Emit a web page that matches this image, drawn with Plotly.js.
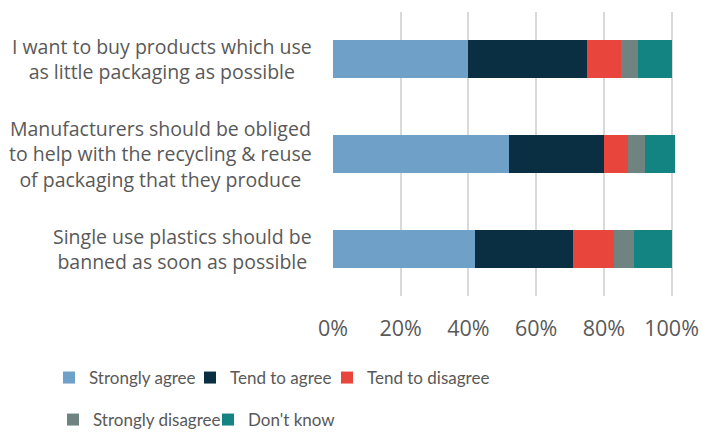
<!DOCTYPE html>
<html>
<head>
<meta charset="utf-8">
<script src="https://cdn.plot.ly/plotly-3.0.1.min.js"></script>
<style>html,body{margin:0;padding:0;background:#fff}#chart{width:702px;height:433px}</style>
</head>
<body>
<div id="chart"></div>
<script>
// Data
const categories = [
  "I want to buy products which use<br>as little packaging as possible",
  "Manufacturers should be obliged<br>to help with the recycling & reuse<br>of packaging that they produce",
  "Single use plastics should be<br>banned as soon as possible"
];
const seriesNames = ["Strongly agree", "Tend to agree", "Tend to disagree", "Strongly disagree", "Don't know"];
const stronglyAgree    = [40, 52, 42];
const tendToAgree      = [35, 28, 29];
const tendToDisagree   = [10, 7, 12];
const stronglyDisagree = [5, 5, 6];
const dontKnow         = [10, 9, 11];
const tickValues = [0, 20, 40, 60, 80, 100];
const tickLabels = ["0%", "20%", "40%", "60%", "80%", "100%"];

const seriesValues = [stronglyAgree, tendToAgree, tendToDisagree, stronglyDisagree, dontKnow];
const colors = ["#6fa0c8", "#0a2e42", "#e8463c", "#6f8480", "#148482"];
const legendIds = ["legend", "legend", "legend", "legend2", "legend2"];
const legendWidths = [96, 92, 160, 110, 160];
const FONT = "'Open Sans', sans-serif";
const LEGFONT = "Lato, sans-serif";
const TXT = "#595959";

const traces = seriesNames.map((name, i) => ({
  type: "bar",
  orientation: "h",
  name: name,
  x: seriesValues[i],
  y: categories,
  marker: {color: colors[i], line: {width: 0}},
  legend: legendIds[i],
  legendwidth: legendWidths[i],
  hoverinfo: "x+name"
}));

const annotations = categories.map(c => ({
  x: 0, xref: "paper", xanchor: "right", xshift: -19,
  y: c, yref: "y", yanchor: "middle",
  text: c, align: "center", showarrow: false,
  font: {family: FONT, size: 19.5, color: TXT}
}));

// plot area: top 12, bottom 296 (height 284); left 333, width 342
const PT = 12, PB = 296, PL = 333, PW = 342;
const py = v => (PB - v) / (PB - PT);
const px = v => (v - PL) / PW;

const legendCommon = {
  orientation: "h",
  xanchor: "left", yanchor: "middle",
  font: {family: LEGFONT, size: 17, color: TXT},
  bgcolor: "rgba(0,0,0,0)",
  traceorder: "normal"
};

const layout = {
  width: 702, height: 433,
  margin: {l: PL, r: 702 - PL - PW, t: PT, b: 433 - PB, autoexpand: false},
  paper_bgcolor: "#fff", plot_bgcolor: "#fff",
  barmode: "stack",
  bargap: 0.6,
  xaxis: {
    range: [0, 101],
    tickvals: tickValues,
    ticktext: tickLabels,
    showgrid: true, gridcolor: "#d9d9d9", gridwidth: 2,
    zeroline: false, showline: false,
    ticks: "", ticklabelstandoff: 17,
    tickfont: {family: FONT, size: 21.5, color: TXT},
    fixedrange: true
  },
  yaxis: {
    autorange: "reversed",
    showticklabels: false,
    showgrid: false, zeroline: false, showline: false,
    fixedrange: true
  },
  annotations: annotations,
  legend: Object.assign({}, legendCommon, {x: px(49), y: py(378)}),
  legend2: Object.assign({}, legendCommon, {x: px(53), y: py(420)}),
  showlegend: true
};

Plotly.newPlot("chart", traces, layout, {displayModeBar: false, staticPlot: true});
</script>
</body>
</html>
